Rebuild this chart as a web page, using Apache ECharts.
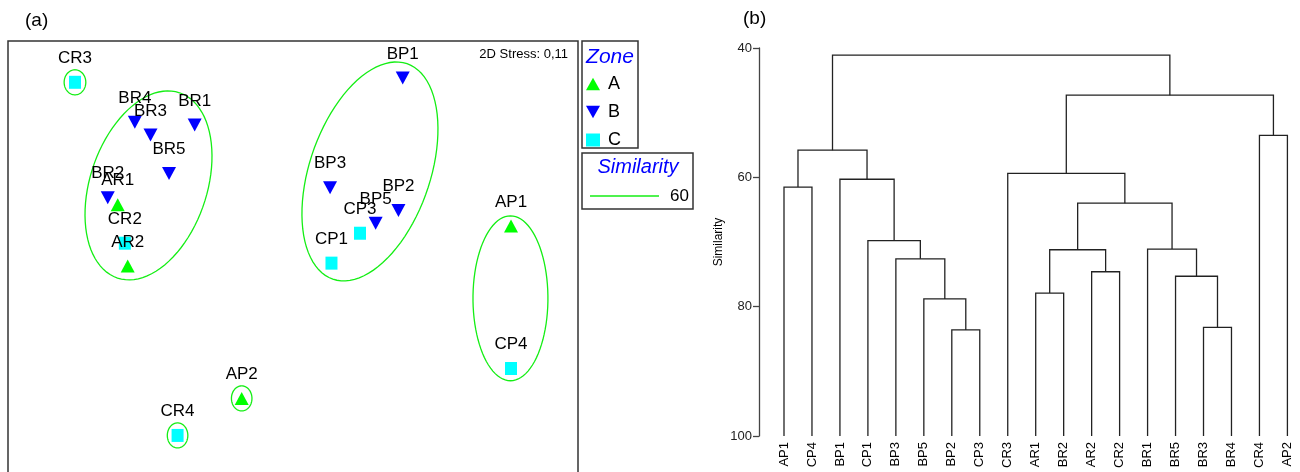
<!DOCTYPE html>
<html>
<head>
<meta charset="utf-8">
<script src="https://cdn.jsdelivr.net/npm/echarts@6/dist/echarts.min.js"></script>
<style>
  html, body { margin: 0; padding: 0; background: #fff; }
  #chart { width: 1300px; height: 472px; }
</style>
</head>
<body>
<div id="chart"></div>
<script>
// --- (a) nMDS ordination ---
const samples = ['CR3', 'BR4', 'BR3', 'BR1', 'BR5', 'BR2', 'AR1', 'CR2', 'AR2', 'BP1', 'BP3', 'BP2', 'BP5', 'CP3', 'CP1', 'AP1', 'CP4', 'AP2', 'CR4'];
const mdsX = [-1.53, -1.11, -1.00, -0.69, -0.87, -1.30, -1.23, -1.18, -1.16, 0.77, 0.26, 0.74, 0.58, 0.47, 0.27, 1.53, 1.53, -0.36, -0.81];
const mdsY = [1.11, 0.83, 0.74, 0.81, 0.47, 0.30, 0.25, -0.02, -0.18, 1.14, 0.37, 0.21, 0.12, 0.05, -0.16, 0.10, -0.90, -1.11, -1.37];
const zones = ['A', 'B', 'C'];
const stressText = '2D Stress: 0,11';
const similarityLevel = 60;

// contours at 60% similarity : centre x, centre y, semi-axis 1, semi-axis 2, angle (deg)
const contourCx = [-1.014, 0.54, 1.526, -1.53, -0.36, -0.81];
const contourCy = [0.386, 0.484, -0.407, 1.11, -1.11, -1.37];
const contourA = [0.686, 0.80, 0.579, 0.088, 0.088, 0.088];
const contourB = [0.410, 0.423, 0.263, 0.076, 0.072, 0.072];
const contourAngle = [71.5, 71, 90, 90, 90, 90];

// --- (b) dendrogram ---
const leaves = ['AP1', 'CP4', 'BP1', 'CP1', 'BP3', 'BP5', 'BP2', 'CP3', 'CR3', 'AR1', 'BR2', 'AR2', 'CR2', 'BR1', 'BR5', 'BR3', 'BR4', 'CR4', 'AP2'];
// [node a, node b, similarity] ; nodes >= leaves.length are earlier merges
const merges = [
    [6, 7, 83.6], [15, 16, 83.2], [5, 19, 78.8], [9, 10, 77.9], [14, 20, 75.3],
    [11, 12, 74.6], [4, 21, 72.6], [22, 24, 71.2], [13, 23, 71.1], [3, 25, 69.8],
    [26, 27, 64.0], [0, 1, 61.5], [8, 29, 59.4], [2, 28, 60.3], [17, 18, 53.5],
    [30, 32, 55.8], [31, 33, 47.3], [34, 35, 41.1]
];

const FONT = "'Liberation Sans', Arial, sans-serif";
const zoneColors = { A: '#00ff00', B: '#0000ff', C: '#00ffff' };
const zoneSymbols = {
    A: 'path://M5,0 L10,9 L0,9 Z',
    B: 'path://M0,0 L10,0 L5,9 Z',
    C: 'rect'
};
const zoneSizes = { A: [14, 13], B: [14, 13], C: [12, 13] };

// scatter series, one per zone
const zoneSeries = zones.map(z => ({
    name: z,
    type: 'scatter',
    xAxisIndex: 0,
    yAxisIndex: 0,
    symbol: zoneSymbols[z],
    symbolSize: zoneSizes[z],
    itemStyle: { color: zoneColors[z], opacity: 1 },
    label: {
        show: true,
        position: 'top',
        distance: 9,
        formatter: '{b}',
        color: '#000',
        fontFamily: FONT,
        fontSize: 17
    },
    z: 3,
    data: samples
        .map((s, i) => ({ name: s, value: [mdsX[i], mdsY[i]] }))
        .filter(d => d.name[0] === z)
}));

// ellipse contours drawn through the grid scale
const contourSeries = {
    type: 'custom',
    xAxisIndex: 0,
    yAxisIndex: 0,
    silent: true,
    z: 2,
    data: contourCx.map((cx, i) => [cx, contourCy[i], contourA[i], contourB[i], contourAngle[i]]),
    renderItem: function (params, api) {
        const cx = api.value(0), cy = api.value(1);
        const a = api.value(2), b = api.value(3);
        const t = api.value(4) * Math.PI / 180;
        const pts = [];
        for (let k = 0; k < 90; k++) {
            const u = k / 90 * Math.PI * 2;
            const ex = a * Math.cos(u), ey = b * Math.sin(u);
            pts.push(api.coord([cx + ex * Math.cos(t) - ey * Math.sin(t), cy + ex * Math.sin(t) + ey * Math.cos(t)]));
        }
        return {
            type: 'polygon',
            shape: { points: pts },
            style: { fill: 'none', stroke: '#14ee14', lineWidth: 1.3 }
        };
    }
};

// dendrogram branches
const nodeX = leaves.map((_, i) => i);
const nodeH = leaves.map(() => 100);
const branchData = merges.map(([a, b, s]) => {
    const line = { coords: [[nodeX[a], nodeH[a]], [nodeX[a], s], [nodeX[b], s], [nodeX[b], nodeH[b]]] };
    nodeX.push((nodeX[a] + nodeX[b]) / 2);
    nodeH.push(s);
    return line;
});

const chart = echarts.init(document.getElementById('chart'));

chart.setOption({
    animation: false,
    textStyle: { fontFamily: FONT },
    grid: [
        {
            left: 8, top: 41, width: 570, height: 440, outerBoundsMode: 'none',
            show: true, borderColor: '#333', borderWidth: 1.5, backgroundColor: 'transparent'
        },
        { left: 784, top: 48, right: 0, height: 388, outerBoundsMode: 'none' }
    ],
    xAxis: [
        { gridIndex: 0, type: 'value', min: -2, max: 2, show: false },
        {
            gridIndex: 1, type: 'value', min: 0, max: 18.45, interval: 1,
            axisLine: { show: false }, axisTick: { show: false }, splitLine: { show: false },
            axisLabel: {
                rotate: 90, margin: 6, fontSize: 13, color: '#000',
                formatter: v => Number.isInteger(v) && leaves[v] ? leaves[v] : ''
            }
        }
    ],
    yAxis: [
        { gridIndex: 0, type: 'value', min: -1.69, max: 1.4, show: false },
        {
            gridIndex: 1, type: 'value', min: 40, max: 100, interval: 20, inverse: true,
            offset: 25,
            name: 'Similarity', nameLocation: 'middle', nameGap: 34,
            nameTextStyle: { fontSize: 12, color: '#000' },
            axisLine: { show: true, onZero: false, lineStyle: { color: '#444', width: 1.3 } },
            axisTick: { show: true, length: 6, lineStyle: { color: '#444', width: 1.3 } },
            axisLabel: { fontSize: 13, color: '#222', margin: 7 },
            splitLine: { show: false }
        }
    ],
    legend: {
        data: zones,
        orient: 'vertical',
        left: 586,
        top: 75,
        padding: 0,
        itemWidth: 14,
        itemHeight: 13,
        itemGap: 10,
        selectedMode: false,
        textStyle: { fontSize: 18, color: '#000', fontFamily: FONT, padding: [0, 0, 0, 3] }
    },
    graphic: [
        { type: 'text', left: 25, top: 11, style: { text: '(a)', font: '19px ' + FONT, fill: '#000' } },
        { type: 'text', left: 743, top: 9, style: { text: '(b)', font: '19px ' + FONT, fill: '#000' } },
        { type: 'text', right: 732, top: 48, style: { text: stressText, font: '13px ' + FONT, fill: '#000' } },
        { type: 'rect', shape: { x: 582, y: 41, width: 56, height: 107 }, style: { fill: 'none', stroke: '#333', lineWidth: 1.5 } },
        { type: 'text', x: 610, y: 57, style: { text: 'Zone', font: 'italic 21px ' + FONT, fill: '#0000ff', align: 'center', verticalAlign: 'middle' } },
        { type: 'rect', shape: { x: 582, y: 153, width: 111, height: 56 }, style: { fill: 'none', stroke: '#333', lineWidth: 1.5 } },
        { type: 'text', x: 638, y: 167, style: { text: 'Similarity', font: 'italic 20px ' + FONT, fill: '#0000ff', align: 'center', verticalAlign: 'middle' } },
        { type: 'line', shape: { x1: 590, y1: 196, x2: 659, y2: 196 }, style: { stroke: '#14ee14', lineWidth: 1.3 } },
        { type: 'text', x: 689, y: 196, style: { text: String(similarityLevel), font: '17px ' + FONT, fill: '#000', align: 'right', verticalAlign: 'middle' } }
    ],
    series: [
        contourSeries,
        ...zoneSeries,
        {
            type: 'lines',
            coordinateSystem: 'cartesian2d',
            xAxisIndex: 1,
            yAxisIndex: 1,
            polyline: true,
            silent: true,
            lineStyle: { color: '#222', width: 1.3, opacity: 1 },
            data: branchData
        }
    ]
});
</script>
</body>
</html>
